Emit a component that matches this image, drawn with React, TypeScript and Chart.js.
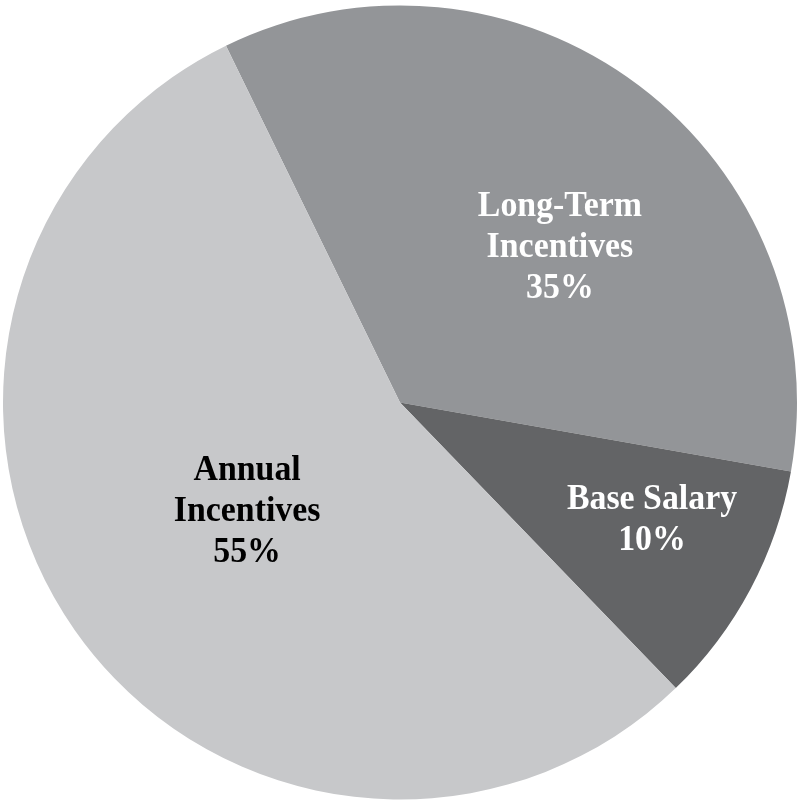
import React, { useEffect, useRef } from "react";
import { Chart, registerables } from "chart.js";

Chart.register(...registerables);

const categories = ["Long-Term Incentives", "Base Salary", "Annual Incentives"];
const values = [35, 10, 55];
const labelLines = [
  ["Long-Term", "Incentives", "35%"],
  ["Base Salary", "10%"],
  ["Annual", "Incentives", "55%"],
];
const colors = ["#939598", "#636466", "#c7c8ca"];
const labelColors = ["#ffffff", "#ffffff", "#000000"];
// label placement: angle (deg, clockwise from top) and radius fraction
const labelAngle = [45.9, 115.1, 234.5];
const labelRadiusFrac = [0.561, 0.701, 0.473];

const labelPlugin = {
  id: "sliceLabels",
  afterDatasetsDraw(chart: any) {
    const ctx = chart.ctx;
    const meta = chart.getDatasetMeta(0);
    meta.data.forEach((arc: any, i: number) => {
      const p = arc.getProps(["x", "y", "outerRadius"], true);
      const ang = ((labelAngle[i] - 90) * Math.PI) / 180;
      const r = p.outerRadius * labelRadiusFrac[i];
      const cx = p.x + Math.cos(ang) * r;
      const cy = p.y + Math.sin(ang) * r;
      const lines = labelLines[i];
      const lh = 41;
      ctx.save();
      ctx.fillStyle = labelColors[i];
      ctx.font = "bold 36px 'Liberation Serif', 'Times New Roman', serif";
      ctx.textAlign = "center";
      ctx.textBaseline = "middle";
      lines.forEach((ln: string, j: number) => {
        const y = cy + (j - (lines.length - 1) / 2) * lh;
        ctx.save();
        ctx.translate(cx, y);
        ctx.scale(0.94, 1);
        ctx.fillText(ln, 0, 0);
        ctx.restore();
      });
      ctx.restore();
    });
  },
};

export default function App() {
  const ref = useRef<HTMLCanvasElement>(null);
  useEffect(() => {
    if (!ref.current) return;
    const chart = new Chart(ref.current, {
      type: "pie",
      data: {
        labels: categories,
        datasets: [
          {
            data: values,
            backgroundColor: colors,
            borderWidth: 0,
            hoverOffset: 0,
          },
        ],
      },
      options: {
        responsive: false,
        animation: false,
        rotation: -26,
        layout: { padding: { top: 5, bottom: 0, left: 3, right: 3 } },
        plugins: {
          legend: { display: false },
          tooltip: { enabled: false },
          title: { display: false },
        },
      },
      plugins: [labelPlugin],
    });
    return () => chart.destroy();
  }, []);
  return (
    <div style={{ position: "fixed", left: 0, top: 0, width: 800, height: 800, background: "#fff" }}>
      <canvas ref={ref} width={800} height={800} />
    </div>
  );
}
